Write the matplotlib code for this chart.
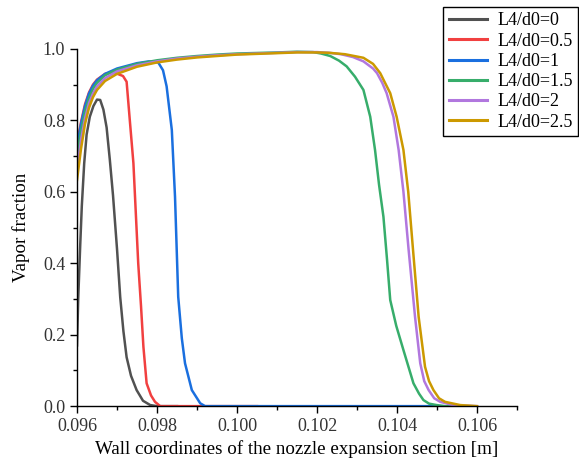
import matplotlib
matplotlib.use("Agg")
import matplotlib.pyplot as plt
from matplotlib.ticker import MultipleLocator, FormatStrFormatter

plt.rcParams['font.family'] = ['Liberation Serif', 'DejaVu Serif']

labels = ["L4/d0=0", "L4/d0=0.5", "L4/d0=1", "L4/d0=1.5", "L4/d0=2", "L4/d0=2.5"]
colors = ["#515151", "#F14040", "#1A6FDF", "#37AD6B", "#B177DE", "#CC9900"]

x0 = [0.096, 0.09603, 0.09608, 0.09612, 0.09618, 0.09624, 0.09632, 0.09641, 0.0965,
      0.09658, 0.09666, 0.09674, 0.09682, 0.0969, 0.097, 0.09708, 0.09716, 0.09724,
      0.09735, 0.09749, 0.09765, 0.09783, 0.098, 0.0985]
y0 = [0.17, 0.30, 0.45, 0.56, 0.68, 0.76, 0.81, 0.84, 0.858,
      0.857, 0.83, 0.78, 0.69, 0.59, 0.44, 0.305, 0.21, 0.137,
      0.085, 0.045, 0.015, 0.003, 0.0, 0.0]

x05 = [0.096, 0.0961, 0.0962, 0.0963, 0.0964, 0.0965, 0.0967, 0.0969, 0.09715, 0.09724,
       0.09732, 0.09741, 0.09747, 0.09753, 0.0976, 0.09766, 0.09774, 0.09785, 0.09795,
       0.09808, 0.0995, 0.1005]
y05 = [0.735, 0.795, 0.845, 0.878, 0.90, 0.914, 0.93, 0.935, 0.924, 0.908,
       0.80, 0.68, 0.54, 0.40, 0.28, 0.166, 0.064, 0.03, 0.012,
       0.0, 0.0, 0.0]

x1 = [0.096, 0.0961, 0.0962, 0.0963, 0.0964, 0.0965, 0.0967, 0.097, 0.0975, 0.0978,
      0.09803, 0.09815, 0.09824, 0.09837, 0.09845, 0.09853, 0.09862, 0.0987, 0.09887,
      0.09908, 0.0992, 0.105]
y1 = [0.727, 0.79, 0.84, 0.875, 0.897, 0.912, 0.93, 0.945, 0.96, 0.965,
      0.962, 0.94, 0.895, 0.773, 0.586, 0.306, 0.19, 0.12, 0.045,
      0.008, 0.0, 0.0]

x15 = [0.096, 0.0961, 0.0962, 0.0963, 0.0964, 0.0965, 0.0967, 0.097, 0.0975, 0.098,
       0.0985, 0.099, 0.0995, 0.100, 0.101, 0.1015, 0.1019, 0.1021, 0.10233, 0.10255,
       0.10274, 0.10295, 0.10316, 0.10333, 0.10345, 0.10355, 0.10366, 0.10375, 0.10383,
       0.10398, 0.10416, 0.10441, 0.10455, 0.10466, 0.1048, 0.10499, 0.1052, 0.1055]
y15 = [0.703, 0.77, 0.825, 0.862, 0.888, 0.905, 0.926, 0.942, 0.958, 0.968,
       0.975, 0.980, 0.984, 0.987, 0.990, 0.992, 0.991, 0.987, 0.98, 0.967,
       0.951, 0.922, 0.885, 0.81, 0.717, 0.62, 0.53, 0.41, 0.297,
       0.225, 0.157, 0.064, 0.035, 0.017, 0.007, 0.003, 0.0, 0.0]

x2 = [0.096, 0.0961, 0.0962, 0.0963, 0.0964, 0.0965, 0.0967, 0.097, 0.0975, 0.098,
      0.0985, 0.099, 0.0995, 0.100, 0.101, 0.1015, 0.102, 0.1023, 0.1026, 0.1029,
      0.10316, 0.1034, 0.1035, 0.10363, 0.10374, 0.10391, 0.10404, 0.10416, 0.10429,
      0.10445, 0.10458, 0.10468, 0.10479, 0.10493, 0.10508, 0.1054, 0.106]
y2 = [0.66, 0.745, 0.805, 0.848, 0.875, 0.895, 0.918, 0.937, 0.954, 0.965,
      0.973, 0.978, 0.982, 0.985, 0.989, 0.991, 0.991, 0.989, 0.985, 0.977,
      0.965, 0.945, 0.932, 0.905, 0.876, 0.81, 0.717, 0.60, 0.437,
      0.25, 0.12, 0.07, 0.045, 0.022, 0.012, 0.003, 0.0]

x25 = [0.096, 0.0961, 0.0962, 0.0963, 0.0964, 0.0965, 0.0967, 0.097, 0.0975, 0.098,
       0.0985, 0.099, 0.0995, 0.100, 0.101, 0.1015, 0.102, 0.1023, 0.1027, 0.10316,
       0.1034, 0.10358, 0.1037, 0.10383, 0.10399, 0.10416, 0.10428, 0.1044, 0.10454,
       0.1047, 0.1048, 0.10491, 0.10505, 0.1052, 0.10558, 0.106]
y25 = [0.633, 0.72, 0.79, 0.835, 0.865, 0.885, 0.91, 0.93, 0.95, 0.962,
       0.970, 0.976, 0.980, 0.984, 0.988, 0.990, 0.990, 0.989, 0.985, 0.975,
       0.958, 0.932, 0.905, 0.876, 0.81, 0.717, 0.60, 0.437, 0.25,
       0.11, 0.07, 0.045, 0.022, 0.012, 0.003, 0.0]

series = [(x0, y0), (x05, y05), (x1, y1), (x15, y15), (x2, y2), (x25, y25)]

fig = plt.figure(figsize=(5.79, 4.61), dpi=100)
ax = fig.add_axes([0.133, 0.119, 0.760, 0.775])

for (xs, ys), lab, c in zip(series, labels, colors):
    ax.plot(xs, ys, color=c, lw=1.8, label=lab, solid_joinstyle='round')

ax.set_xlim(0.096, 0.107)
ax.set_ylim(0.0, 1.0)
ax.xaxis.set_major_locator(MultipleLocator(0.002))
ax.xaxis.set_minor_locator(MultipleLocator(0.001))
ax.yaxis.set_major_locator(MultipleLocator(0.2))
ax.yaxis.set_minor_locator(MultipleLocator(0.1))
ax.xaxis.set_major_formatter(FormatStrFormatter('%.3f'))
ax.yaxis.set_major_formatter(FormatStrFormatter('%.1f'))
ax.spines['top'].set_visible(False)
ax.spines['right'].set_visible(False)
for s in ('left', 'bottom'):
    ax.spines[s].set_linewidth(1.0)
ax.tick_params(which='major', direction='out', length=5, width=1, labelsize=13, colors='black')
ax.tick_params(which='minor', direction='out', length=3, width=1)
for t in ax.get_xticklabels() + ax.get_yticklabels():
    t.set_color('#333333')

ax.set_xlabel("Wall coordinates of the nozzle expansion section [m]", fontsize=13.7, labelpad=4)
ax.set_ylabel("Vapor fraction", fontsize=13.7, labelpad=9)

leg = fig.legend(loc='upper right', bbox_to_anchor=(0.999, 0.985), frameon=True, fancybox=False,
                 edgecolor='black', framealpha=1, fontsize=13, handlelength=2.1,
                 labelspacing=0.18, borderpad=0.3, handletextpad=0.6, borderaxespad=0)
leg.get_frame().set_linewidth(1.0)
for line in leg.get_lines():
    line.set_linewidth(2.2)

fig.savefig("out.png", dpi=100)
